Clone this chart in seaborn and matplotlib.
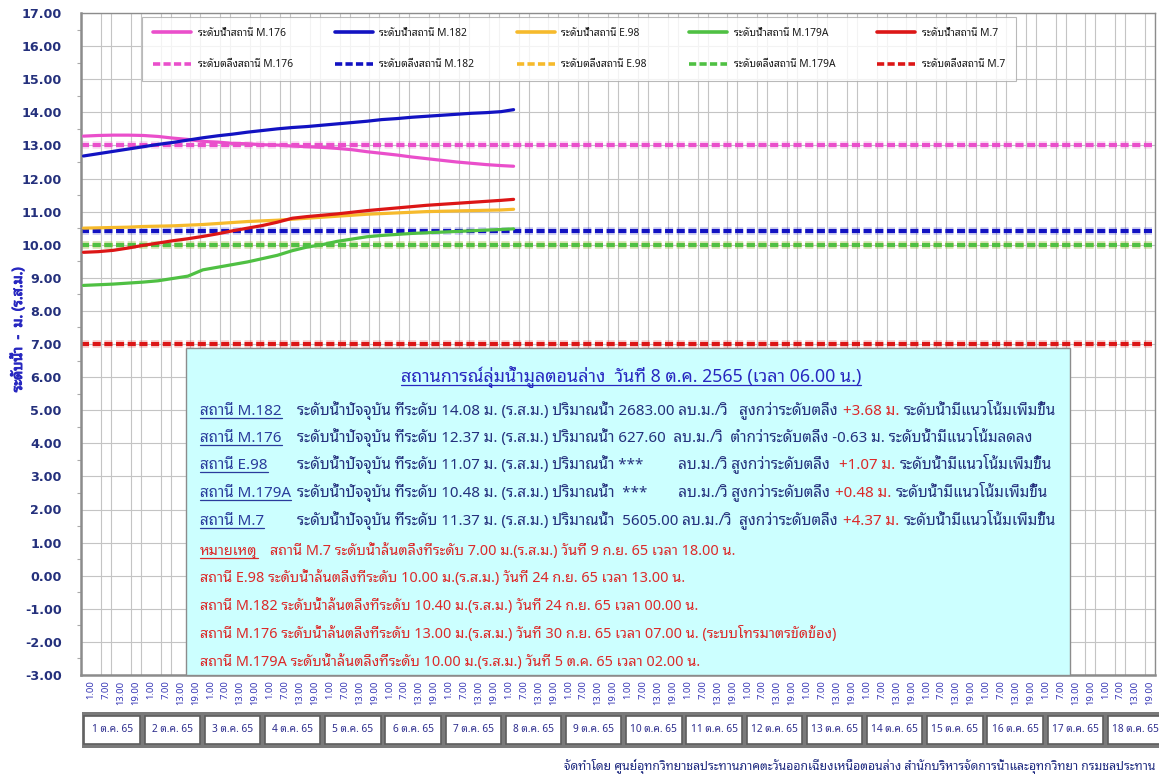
import numpy as np
import pandas as pd
import seaborn as sns
import matplotlib.pyplot as plt
import matplotlib.patheffects as pe
from matplotlib import font_manager as fm
from matplotlib.ft2font import FT2Font
from matplotlib.lines import Line2D
from matplotlib.patches import Rectangle
from matplotlib.ticker import MultipleLocator, FixedLocator

# ---------------- data ----------------
# hours counted from 1 ต.ค. 65 00:00, readings every 6 h up to 8 ต.ค. 06:00
hours = [1, 7, 13, 19, 25, 31, 37, 43, 49, 55, 61, 67, 73, 79, 85,
         91, 97, 103, 109, 115, 121, 127, 133, 139, 145, 151, 157, 163, 169, 174]

stations = ['M.176', 'M.182', 'E.98', 'M.179A', 'M.7']

level_m176 = [13.28, 13.30, 13.31, 13.31, 13.30, 13.27, 13.22, 13.18, 13.12, 13.10,
              13.06, 13.05, 13.02, 13.01, 12.98, 12.96, 12.94, 12.91, 12.87, 12.81,
              12.76, 12.71, 12.65, 12.60, 12.55, 12.50, 12.46, 12.42, 12.39, 12.37]
level_m182 = [12.68, 12.75, 12.82, 12.89, 12.96, 13.03, 13.09, 13.16, 13.23, 13.29,
              13.34, 13.40, 13.45, 13.50, 13.54, 13.57, 13.61, 13.65, 13.69, 13.73,
              13.78, 13.81, 13.85, 13.88, 13.91, 13.94, 13.97, 13.99, 14.02, 14.08]
level_e98 = [10.50, 10.51, 10.52, 10.53, 10.55, 10.56, 10.57, 10.59, 10.61, 10.64,
             10.67, 10.70, 10.72, 10.74, 10.77, 10.80, 10.83, 10.86, 10.89, 10.92,
             10.94, 10.96, 10.98, 11.00, 11.01, 11.02, 11.03, 11.04, 11.05, 11.07]
level_m179a = [8.77, 8.79, 8.81, 8.84, 8.87, 8.91, 8.98, 9.05, 9.24, 9.32,
               9.40, 9.48, 9.58, 9.68, 9.82, 9.93, 10.00, 10.10, 10.17, 10.24,
               10.28, 10.31, 10.34, 10.36, 10.38, 10.40, 10.42, 10.44, 10.46, 10.48]
level_m7 = [9.77, 9.79, 9.83, 9.90, 9.98, 10.05, 10.12, 10.18, 10.25, 10.33,
            10.42, 10.50, 10.58, 10.68, 10.80, 10.85, 10.89, 10.93, 10.98, 11.03,
            11.07, 11.11, 11.15, 11.19, 11.22, 11.25, 11.28, 11.31, 11.34, 11.37]

bank_levels = [13.00, 10.40, 10.00, 10.00, 7.00]

day_labels = ['%d ต.ค. 65' % d for d in range(1, 19)]
hour_labels = ['1.00', '7.00', '13.00', '19.00']
hour_of_label = [1, 7, 13, 19]

title_text = 'สถานการณ์ลุ่มน้ำมูลตอนล่าง  วันที่ 8 ต.ค. 2565 (เวลา 06.00 น.)'
row_station = ['สถานี M.182', 'สถานี M.176', 'สถานี E.98', 'สถานี M.179A', 'สถานี M.7']
row_body = ['ระดับน้ำปัจจุบัน ที่ระดับ 14.08 ม. (ร.ส.ม.) ปริมาณน้ำ 2683.00 ลบ.ม./วิ   สูงกว่าระดับตลิ่ง',
            'ระดับน้ำปัจจุบัน ที่ระดับ 12.37 ม. (ร.ส.ม.) ปริมาณน้ำ 627.60  ลบ.ม./วิ  ต่ำกว่าระดับตลิ่ง -0.63 ม. ระดับน้ำมีแนวโน้มลดลง',
            'ระดับน้ำปัจจุบัน ที่ระดับ 11.07 ม. (ร.ส.ม.) ปริมาณน้ำ ***         ลบ.ม./วิ สูงกว่าระดับตลิ่ง ',
            'ระดับน้ำปัจจุบัน ที่ระดับ 10.48 ม. (ร.ส.ม.) ปริมาณน้ำ  ***        ลบ.ม./วิ สูงกว่าระดับตลิ่ง',
            'ระดับน้ำปัจจุบัน ที่ระดับ 11.37 ม. (ร.ส.ม.) ปริมาณน้ำ  5605.00 ลบ.ม./วิ  สูงกว่าระดับตลิ่ง']
row_diff = ['+3.68 ม.', '', '+1.07 ม.', '+0.48 ม.', '+4.37 ม.']
row_trend = ['ระดับน้ำมีแนวโน้มเพิ่มขึ้น', '', 'ระดับน้ำมีแนวโน้มเพิ่มขึ้น',
             'ระดับน้ำมีแนวโน้มเพิ่มขึ้น', 'ระดับน้ำมีแนวโน้มเพิ่มขึ้น']
note_head = 'หมายเหตุ'
note_lines = ['สถานี M.7 ระดับน้ำล้นตลิ่งที่ระดับ 7.00 ม.(ร.ส.ม.) วันที่ 9 ก.ย. 65 เวลา 18.00 น.',
              'สถานี E.98 ระดับน้ำล้นตลิ่งที่ระดับ 10.00 ม.(ร.ส.ม.) วันที่ 24 ก.ย. 65 เวลา 13.00 น.',
              'สถานี M.182 ระดับน้ำล้นตลิ่งที่ระดับ 10.40 ม.(ร.ส.ม.) วันที่ 24 ก.ย. 65 เวลา 00.00 น.',
              'สถานี M.176 ระดับน้ำล้นตลิ่งที่ระดับ 13.00 ม.(ร.ส.ม.) วันที่ 30 ก.ย. 65 เวลา 07.00 น. (ระบบโทรมาตรขัดข้อง)',
              'สถานี M.179A ระดับน้ำล้นตลิ่งที่ระดับ 10.00 ม.(ร.ส.ม.) วันที่ 5 ต.ค. 65 เวลา 02.00 น.']
footer_text = ('จัดทำโดย ศูนย์อุทกวิทยาชลประทานภาคตะวันออกเฉียงเหนือตอนล่าง '
               'สำนักบริหารจัดการน้ำและอุทกวิทยา กรมชลประทาน')

# ---------------- style ----------------
line_colors = ['#EA4FCB', '#1212C2', '#F6BA2C', '#4FC043', '#DC1616']
NAVY = '#24307C'
BLUE_TXT = '#2828C0'
RED_TXT = '#DC2A2A'
DASH = (0, (2.0, 0.9))

sns.set_theme(style='white')


def find_thai_font():
    found = []
    for f in fm.fontManager.ttflist:
        try:
            if 0x0E01 in FT2Font(f.fname).get_charmap():
                found.append(f.name)
        except Exception:
            continue
    for pref in ['Noto Sans Thai Looped', 'Loma', 'Garuda', 'Noto Sans Thai']:
        if pref in found:
            return pref
    for name in found:
        if 'Thai' in name:
            return name
    return found[0] if found else None


THAI = find_thai_font()
FAM = ['Noto Sans'] + ([THAI] if THAI else []) + ['DejaVu Sans']
plt.rcParams['font.family'] = FAM

W, H = 1159, 780
fig = plt.figure(figsize=(W / 100, H / 100), dpi=100)
fig.patch.set_facecolor('white')
ax = fig.add_axes([81 / W, 105 / H, 1074 / W, 662 / H])

# bank (threshold) levels, dashed across the whole period, with a soft glow
for st, lvl, col in zip(stations, bank_levels, line_colors):
    ax.axhline(lvl, color=col, lw=2.9, ls=DASH, zorder=2,
               path_effects=[pe.Stroke(linewidth=5.5, foreground=col, alpha=0.22), pe.Normal()])

df = pd.DataFrame({
    'hour': hours * 5,
    'level': level_m176 + level_m182 + level_e98 + level_m179a + level_m7,
    'station': [s for s in stations for _ in hours],
})
sns.lineplot(data=df, x='hour', y='level', hue='station', hue_order=stations,
             palette=dict(zip(stations, line_colors)), linewidth=2.3,
             estimator=None, legend=False, ax=ax, zorder=3)

ax.set_xlim(0, 18 * 24)
ax.set_ylim(-3, 17)
ax.set_yticks(np.arange(-3, 17.01, 1))
ax.set_yticklabels(['%.2f' % v for v in np.arange(-3, 17.01, 1)])
ax.yaxis.set_minor_locator(MultipleLocator(0.5))
tick_pos = [d * 24 + h + 3 for d in range(18) for h in hour_of_label]
ax.xaxis.set_major_locator(FixedLocator(tick_pos))
ax.set_xticklabels(hour_labels * 18)
ax.xaxis.set_minor_locator(MultipleLocator(4))
ax.grid(False)
ax.grid(which='major', axis='y', color='#c4c4c4', lw=0.8)
ax.grid(which='minor', axis='x', color='#c4c4c4', lw=0.8)
ax.tick_params(axis='x', which='both', length=0, pad=4, labelsize=6.8,
               labelcolor='#3535B5', labelrotation=90)
ax.tick_params(axis='y', which='major', length=0, pad=14, labelsize=9.2, labelcolor=NAVY)
ax.tick_params(axis='y', which='minor', left=True, length=3, color='#aaaaaa', width=0.8)
for lab in ax.get_xticklabels():
    lab.set_fontweight('bold')
for lab in ax.get_yticklabels():
    lab.set_fontweight('bold')
    lab.set_family('DejaVu Sans')
for side in ['left', 'bottom', 'top', 'right']:
    ax.spines[side].set_color('#8c8c8c')
    ax.spines[side].set_linewidth(1.0)
ax.spines['left'].set_linewidth(1.8)
ax.spines['bottom'].set_linewidth(1.8)
ax.set_xlabel('')
ylab = ax.set_ylabel('ระดับน้ำ  -  ม. (ร.ส.ม.)', color=BLUE_TXT, fontsize=10.2, fontweight='bold')
ylab.set_path_effects([pe.withStroke(linewidth=0.7, foreground=BLUE_TXT)])
ax.yaxis.set_label_coords((26 - 81) / 1074, (675 - 330) / 662)

# legend: 5 columns, solid level on top row, dashed bank level below
handles, labels = [], []
for st, col in zip(stations, line_colors):
    handles.append(Line2D([], [], color=col, lw=2.6))
    labels.append('ระดับน้ำสถานี ' + st)
    handles.append(Line2D([], [], color=col, lw=2.6, ls=DASH))
    labels.append('ระดับตลิ่งสถานี ' + st)
leg = ax.legend(handles, labels, ncol=5, loc='upper left',
                bbox_to_anchor=((142 - 81) / 1074, (675 - 17) / 662),
                borderaxespad=0, fontsize=7.4, frameon=True, fancybox=False,
                handlelength=3.7, handletextpad=0.65, columnspacing=4.1,
                labelspacing=2.0, borderpad=1.05)
leg.get_frame().set_edgecolor('#a8a8a8')
leg.get_frame().set_linewidth(0.8)
for t in leg.get_texts():
    t.set_color('#1a1a1a')

# ---------------- day boxes row ----------------
box_w = 60.2
ax2 = fig.add_axes([82 / W, 32 / H, 18 * box_w / W, 36 / H])
ax2.set_facecolor('#7a7a7a')
ax2.bar(np.arange(18) + 0.5, 0.78, bottom=0.11, width=0.92, color='white',
        edgecolor='#5e5e5e', linewidth=1.2)
for i, lab in enumerate(day_labels):
    ax2.text(i + 0.5, 0.5, lab, ha='center', va='center', fontsize=7.3, color='#2E2E8E')
ax2.set_xlim(0, 18)
ax2.set_ylim(0, 1)
ax2.set_xticks([])
ax2.set_yticks([])
for s in ax2.spines.values():
    s.set_visible(False)

# ---------------- overlay with the situation box ----------------
ov = fig.add_axes([0, 0, 1, 1])
ov.set_xlim(0, W)
ov.set_ylim(0, H)
ov.set_autoscale_on(False)
ov.axis('off')
ov.patch.set_alpha(0)
ov.add_patch(Rectangle((186, H - 675), 884, 327, facecolor='#CCFFFF',
                       edgecolor='#8c8c8c', lw=1.0, zorder=1))

r = fig.canvas.get_renderer()


def put(x, y, s, color, size, ul=False, ha='left', weight='normal'):
    t = ov.text(x, H - y, s, color=color, fontsize=size, ha=ha, va='baseline',
                fontweight=weight, zorder=3)
    bb = t.get_window_extent(r)
    if ul:
        ov.plot([bb.x0, bb.x1], [H - y - 3, H - y - 3], color=color, lw=0.9, zorder=3)
    return bb.x1


put(631, 382, title_text, BLUE_TXT, 12.8, ul=True, ha='center')

BODY = 10.9
row_y = [415, 442, 469, 497, 525]
for i in range(5):
    x = put(200, row_y[i], row_station[i], '#2A3C9C', BODY, ul=True)
    x = max(297, x + 4)
    x = put(x, row_y[i], row_body[i], NAVY, BODY)
    if row_diff[i]:
        x = put(x + 5, row_y[i], row_diff[i], RED_TXT, BODY)
        put(x + 5, row_y[i], row_trend[i], NAVY, BODY)

NOTE = 10.4
note_y = [555, 582, 610, 638, 666]
x = put(200, note_y[0], note_head, RED_TXT, NOTE, ul=True)
put(x + 12, note_y[0], note_lines[0], RED_TXT, NOTE)
for i in range(1, 5):
    put(200, note_y[i], note_lines[i], RED_TXT, NOTE)

# footer (kept inside the image)
put(1155, 770, footer_text, '#1E2A80', 8.8, ha='right', weight='bold')

fig.savefig('out.png', dpi=100)
